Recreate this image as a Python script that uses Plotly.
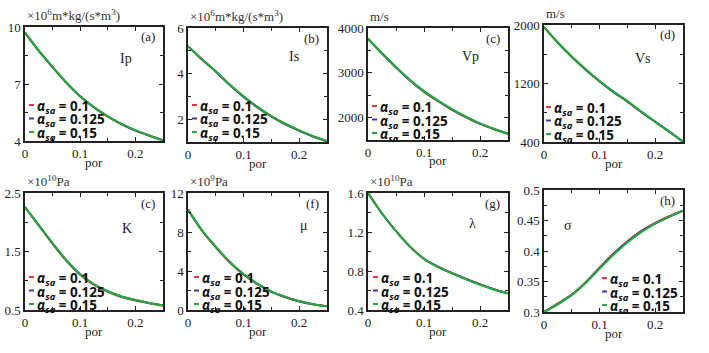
import plotly.graph_objects as go

W, H = 709, 353

por = [0, 0.025, 0.05, 0.075, 0.1, 0.125, 0.15, 0.175, 0.2, 0.225, 0.25]
alphas = ["0.1", "0.125", "0.15"]
colors = ["#e8363a", "#3c3c9c", "#22aa3c"]

ip_01 = [9.70, 8.74, 7.88, 7.06, 6.34, 5.76, 5.28, 4.88, 4.55, 4.28, 4.03]
ip_0125 = [9.70, 8.75, 7.89, 7.07, 6.35, 5.77, 5.29, 4.89, 4.56, 4.29, 4.04]
ip_015 = [9.70, 8.75, 7.90, 7.08, 6.36, 5.78, 5.30, 4.90, 4.57, 4.29, 4.04]

is_01 = [5.20, 4.62, 4.08, 3.50, 2.97, 2.51, 2.11, 1.77, 1.49, 1.24, 1.03]
is_0125 = [5.20, 4.63, 4.09, 3.51, 2.99, 2.53, 2.13, 1.79, 1.50, 1.25, 1.04]
is_015 = [5.20, 4.63, 4.10, 3.52, 3.00, 2.54, 2.14, 1.80, 1.51, 1.26, 1.04]

vp_01 = [3760, 3430, 3120, 2830, 2575, 2365, 2175, 2005, 1860, 1740, 1635]
vp_0125 = [3760, 3435, 3125, 2835, 2585, 2375, 2185, 2015, 1865, 1745, 1640]
vp_015 = [3760, 3440, 3130, 2840, 2590, 2380, 2190, 2020, 1870, 1750, 1640]

vs_01 = [1975, 1755, 1563, 1388, 1227, 1082, 952, 808, 674, 540, 402]
vs_0125 = [1975, 1758, 1567, 1392, 1231, 1086, 956, 812, 677, 543, 404]
vs_015 = [1975, 1760, 1570, 1395, 1235, 1090, 960, 815, 680, 545, 405]

k_01 = [2.26, 1.94, 1.63, 1.34, 1.10, 0.93, 0.81, 0.72, 0.66, 0.615, 0.575]
k_0125 = [2.26, 1.95, 1.64, 1.35, 1.11, 0.94, 0.82, 0.73, 0.67, 0.62, 0.58]
k_015 = [2.26, 1.95, 1.64, 1.35, 1.11, 0.94, 0.82, 0.73, 0.67, 0.62, 0.58]

mu_01 = [10.3, 8.15, 6.43, 4.88, 3.63, 2.64, 1.85, 1.30, 0.88, 0.58, 0.38]
mu_0125 = [10.3, 8.18, 6.47, 4.92, 3.67, 2.67, 1.88, 1.33, 0.90, 0.59, 0.39]
mu_015 = [10.3, 8.20, 6.50, 4.95, 3.70, 2.70, 1.90, 1.35, 0.92, 0.60, 0.40]

lam_01 = [1.60, 1.39, 1.21, 1.05, 0.925, 0.845, 0.78, 0.72, 0.665, 0.613, 0.572]
lam_0125 = [1.60, 1.39, 1.21, 1.05, 0.925, 0.842, 0.777, 0.717, 0.662, 0.611, 0.571]
lam_015 = [1.60, 1.39, 1.21, 1.05, 0.925, 0.840, 0.775, 0.715, 0.660, 0.610, 0.570]

sig_01 = [0.300, 0.314, 0.329, 0.349, 0.373, 0.396, 0.416, 0.433, 0.446, 0.457, 0.466]
sig_0125 = [0.300, 0.313, 0.328, 0.348, 0.372, 0.395, 0.415, 0.432, 0.445, 0.456, 0.466]
sig_015 = [0.300, 0.313, 0.328, 0.348, 0.371, 0.394, 0.414, 0.431, 0.445, 0.456, 0.466]

panels = [
    dict(s=[ip_01, ip_0125, ip_015], yr=[4, 10], tv=[4, 7, 10], tt=["4", "7", "10"], mn=1.5,
         unit="×10<sup>6</sup>m*kg/(s*m<sup>3</sup>)", tag="(a)", name="Ip",
         box=(25, 163, 27, 141), namexy=(126, 58), leg=(29, 105)),
    dict(s=[is_01, is_0125, is_015], yr=[1, 6], tv=[2, 4, 6], tt=["2", "4", "6"], mn=1,
         unit="×10<sup>6</sup>m*kg/(s*m<sup>3</sup>)", tag="(b)", name="Is",
         box=(188, 327, 28, 142), namexy=(294, 57), leg=(192, 105)),
    dict(s=[vp_01, vp_0125, vp_015], yr=[1500, 4000], tv=[2000, 3000, 4000], tt=["2000", "3000", "4000"], mn=500,
         unit="m/s", tag="(c)", name="Vp",
         box=(368, 508, 28, 140), namexy=(470, 57), leg=(372, 106)),
    dict(s=[vs_01, vs_0125, vs_015], yr=[400, 2000], tv=[400, 1200, 2000], tt=["400", "1200", "2000"], mn=400,
         unit="m/s", tag="(d)", name="Vs",
         box=(544, 683, 25, 142), namexy=(643, 58), leg=(546, 107)),
    dict(s=[k_01, k_0125, k_015], yr=[0.5, 2.5], tv=[0.5, 1.5, 2.5], tt=["0.5", "1.5", "2.5"], mn=0.5,
         unit="×10<sup>10</sup>Pa", tag="(c)", name="K",
         box=(25, 163, 193, 310), namexy=(127, 228), leg=(29, 277)),
    dict(s=[mu_01, mu_0125, mu_015], yr=[0, 12], tv=[0, 4, 8, 12], tt=["0", "4", "8", "12"], mn=2,
         unit="×10<sup>9</sup>Pa", tag="(f)", name="μ",
         box=(188, 327, 193, 310), namexy=(304, 225), leg=(194, 277)),
    dict(s=[lam_01, lam_0125, lam_015], yr=[0.4, 1.6], tv=[0.4, 0.8, 1.2, 1.6], tt=["0.4", "0.8", "1.2", "1.6"], mn=0.2,
         unit="×10<sup>10</sup>Pa", tag="(g)", name="λ",
         box=(368, 508, 193, 310), namexy=(472, 223), leg=(373, 277)),
    dict(s=[sig_01, sig_0125, sig_015], yr=[0.3, 0.5], tv=[0.3, 0.35, 0.4, 0.45, 0.5],
         tt=["0.3", "0.35", "0.4", "0.45", "0.5"], mn=0.025,
         unit="", tag="(h)", name="σ",
         box=(544, 683, 190, 312), namexy=(568, 225), leg=(602, 278)),
]


def px(x):
    return x / W


def py(y):
    return 1 - y / H


SERIF = "Liberation Serif"
fig = go.Figure()
layout = dict(width=W, height=H, margin=dict(l=0, r=0, t=0, b=0, autoexpand=False),
              paper_bgcolor="white", plot_bgcolor="white", showlegend=False)
annotations = []
shapes = []
tickfont = dict(family=SERIF, size=13, color="#222")

for i, p in enumerate(panels):
    n = "" if i == 0 else str(i + 1)
    xa, ya = "x" + n, "y" + n
    x0, x1, y0, y1 = p["box"]
    for j in range(3):
        fig.add_trace(go.Scatter(x=por, y=p["s"][j], xaxis=xa, yaxis=ya, mode="lines",
                                 line=dict(color=colors[j], width=2, shape="spline"),
                                 name="α_sa = " + alphas[j], hoverinfo="skip"))
    layout["xaxis" + n] = dict(domain=[px(x0), px(x1)], anchor=ya, range=[0, 0.25], automargin=False,
                               tickvals=[0, 0.1, 0.2], ticktext=["0", "0.1", "0.2"],
                               ticks="inside", ticklen=4, tickcolor="#222", mirror="ticks",
                               showline=True, linecolor="#222", linewidth=1.5,
                               showgrid=False, zeroline=False, tickfont=tickfont,
                               minor=dict(dtick=0.05, tick0=0, ticks="inside", ticklen=3, tickcolor="#222"))
    layout["yaxis" + n] = dict(domain=[py(y1), py(y0)], anchor=xa, range=p["yr"], automargin=False,
                               tickvals=p["tv"], ticktext=p["tt"],
                               ticks="inside", ticklen=4, tickcolor="#222", mirror="ticks",
                               showline=True, linecolor="#222", linewidth=1.5,
                               showgrid=False, zeroline=False, tickfont=tickfont,
                               minor=dict(dtick=p["mn"], tick0=p["yr"][0], ticks="inside", ticklen=3, tickcolor="#222"))
    annotations.append(dict(x=px((x0 + x1) / 2), y=py(y1 + 21), xref="paper", yref="paper", text="por",
                            showarrow=False, xanchor="center", yanchor="middle",
                            font=dict(family=SERIF, size=13, color="#222")))
    if p["unit"]:
        annotations.append(dict(x=px(x0), y=py(y0 - 2), xref="paper", yref="paper", text=p["unit"],
                                showarrow=False, xanchor="left", yanchor="bottom",
                                font=dict(family=SERIF, size=13, color="#333")))
    annotations.append(dict(x=px(x1 - 6), y=py(y0 + 10), xref="paper", yref="paper", text=p["tag"],
                            showarrow=False, xanchor="right", yanchor="middle",
                            font=dict(family=SERIF, size=13, color="#222")))
    annotations.append(dict(x=px(p["namexy"][0]), y=py(p["namexy"][1]), xref="paper", yref="paper",
                            text=p["name"], showarrow=False, xanchor="center", yanchor="middle",
                            font=dict(family=SERIF, size=14, color="#222")))
    lx, ly = p["leg"]
    for j in range(3):
        yy = ly + j * 13.5
        shapes.append(dict(type="line", xref="paper", yref="paper",
                           x0=px(lx), x1=px(lx + 5), y0=py(yy), y1=py(yy),
                           line=dict(color=colors[j], width=2)))
        annotations.append(dict(x=px(lx + 6), y=py(yy + 2), xref="paper", yref="paper",
                                text="<b><i>α</i><sub><i>sa</i></sub> = " + alphas[j] + "</b>",
                                showarrow=False, xanchor="left", yanchor="middle",
                                font=dict(family="Noto Sans", size=13.5, color="#111")))

layout["annotations"] = annotations
layout["shapes"] = shapes
fig.update_layout(**layout)
fig.write_html("out.html", config={"displayModeBar": False},
               post_script="document.body.style.margin='0px';document.body.style.overflow='hidden';")
